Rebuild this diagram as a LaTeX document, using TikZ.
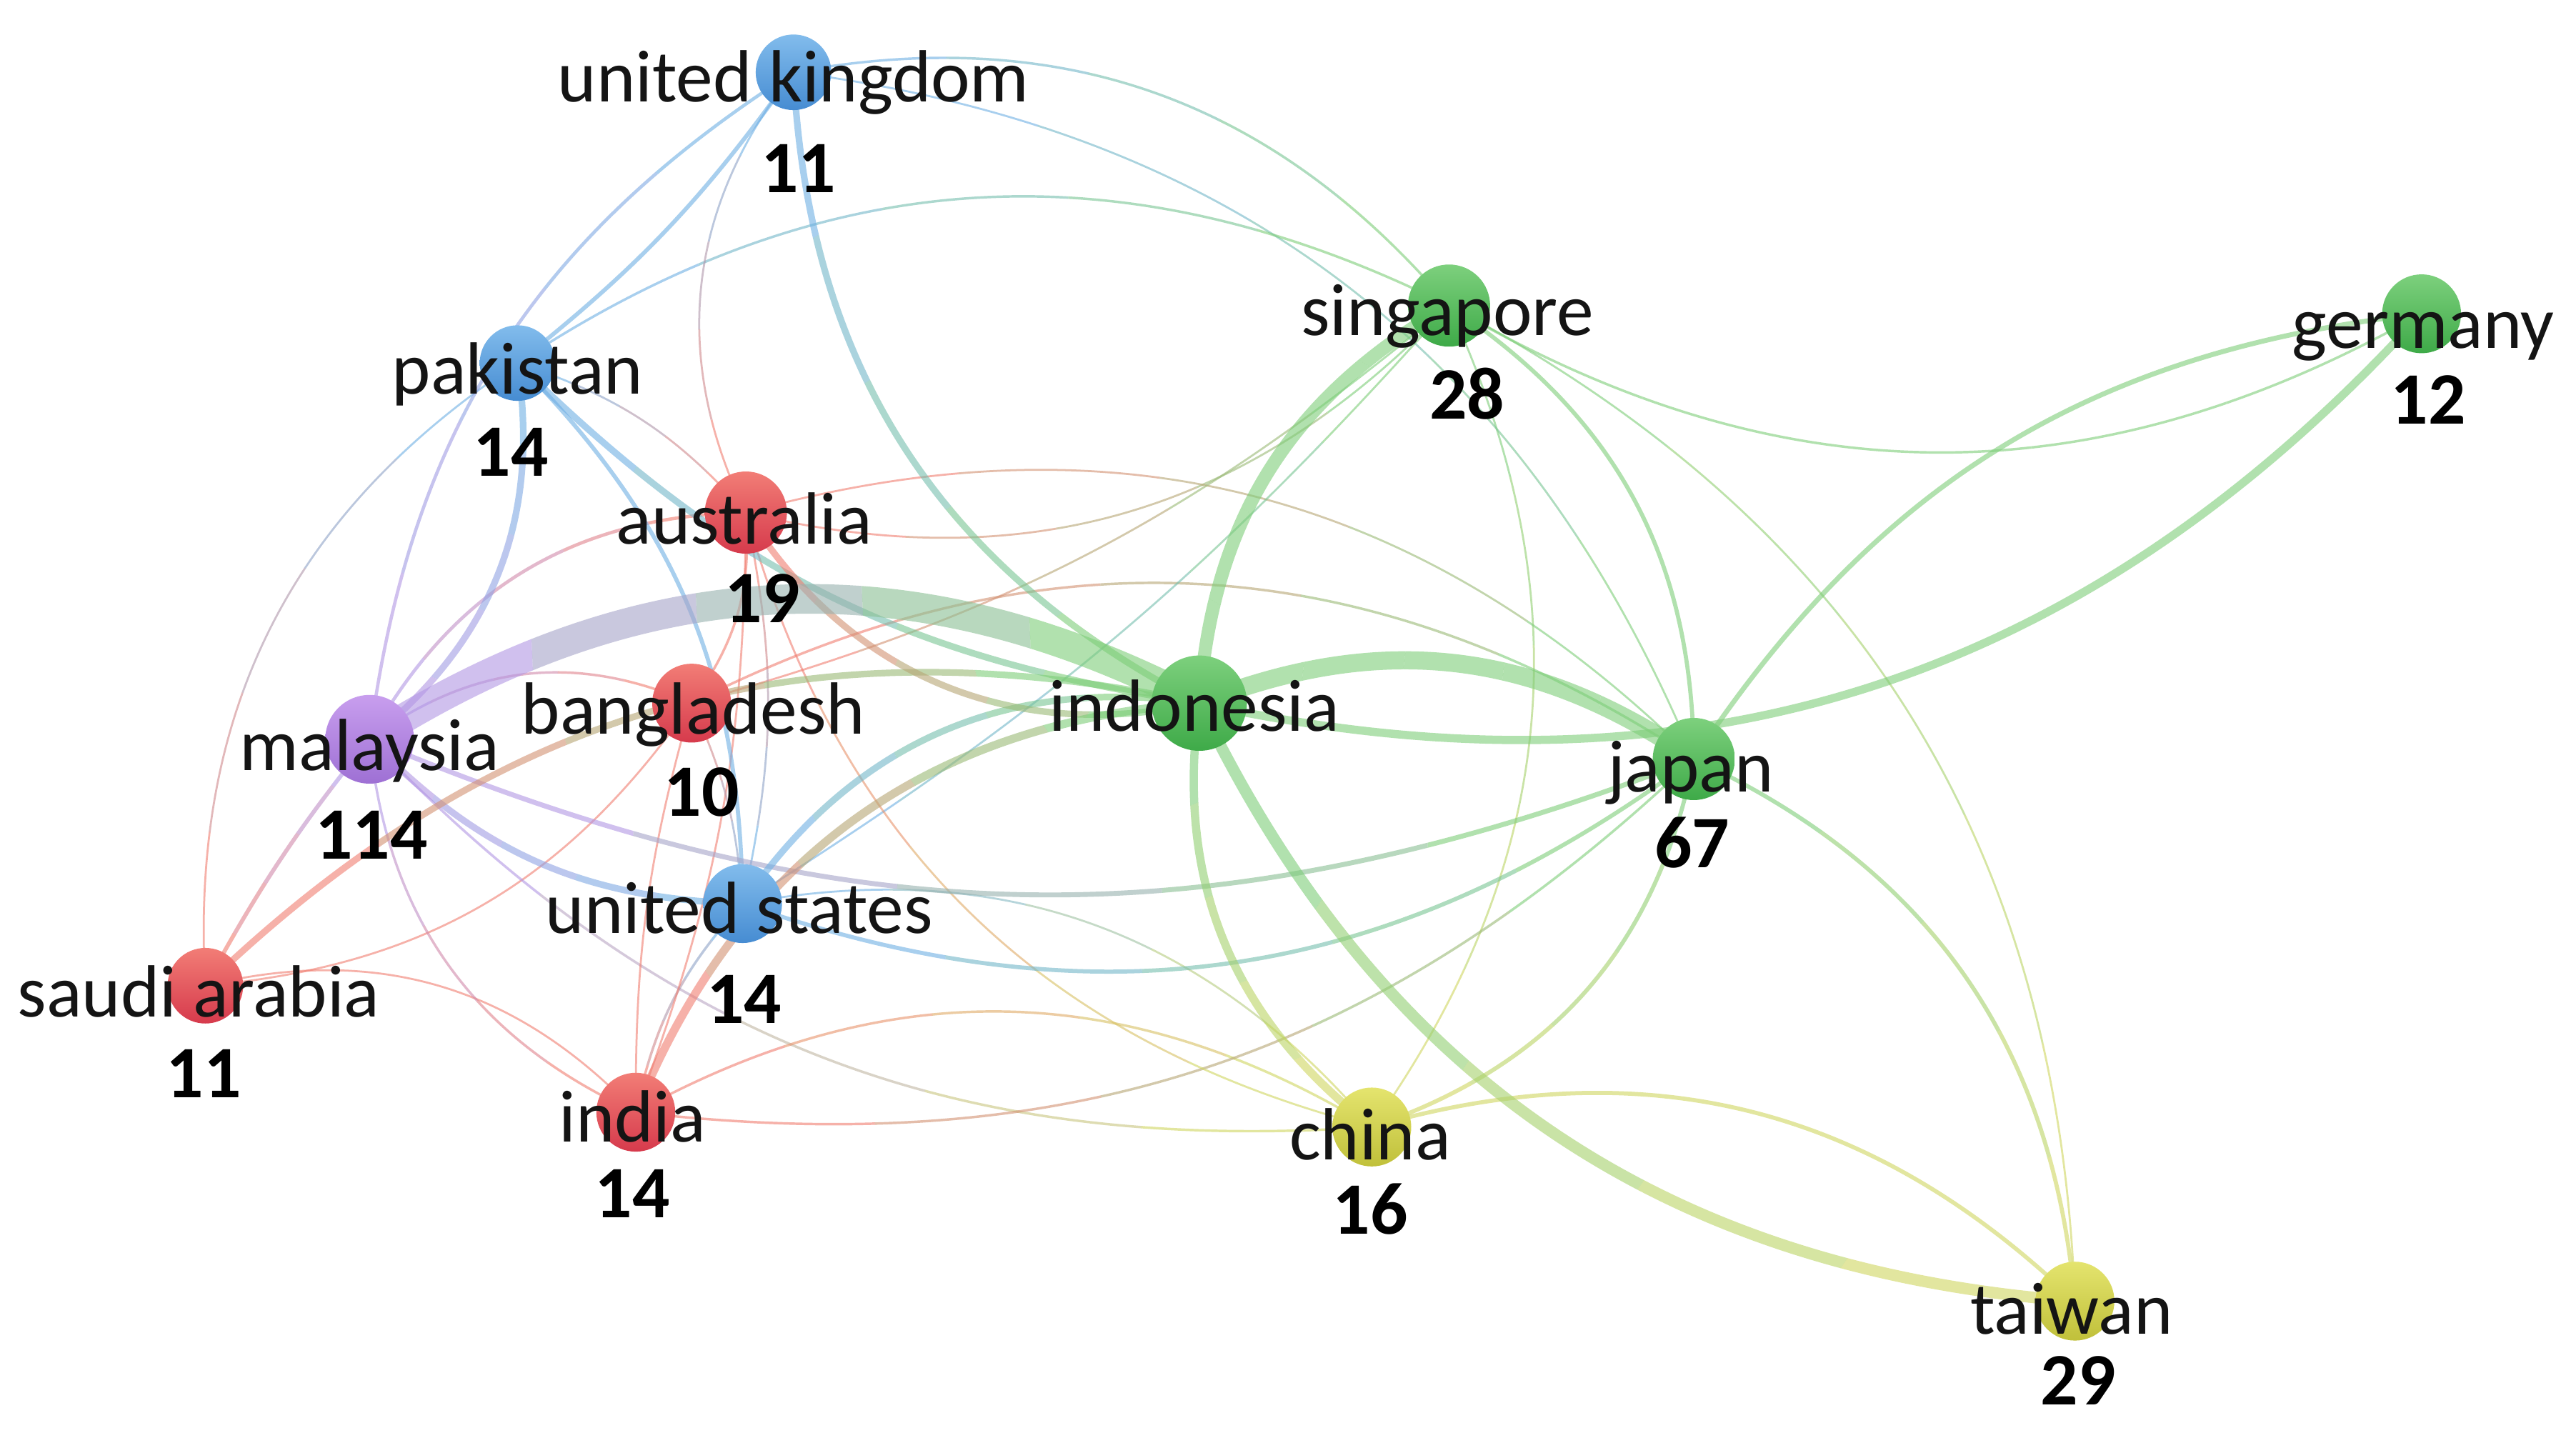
\documentclass[tikz,border=0pt]{standalone}
\usepackage{fontspec}
\setmainfont{Carlito}
\usetikzlibrary{calc}
\definecolor{eB}{RGB}{110,175,228}
\definecolor{eR}{RGB}{240,125,112}
\definecolor{eG}{RGB}{125,205,120}
\definecolor{eY}{RGB}{208,214,95}
\definecolor{eP}{RGB}{178,150,228}
\definecolor{bT}{RGB}{130,188,236}\definecolor{bB}{RGB}{70,140,210}
\definecolor{rT}{RGB}{242,125,118}\definecolor{rB}{RGB}{214,58,76}
\definecolor{gT}{RGB}{125,208,125}\definecolor{gB}{RGB}{62,170,72}
\definecolor{yT}{RGB}{228,228,110}\definecolor{yB}{RGB}{192,192,58}
\definecolor{pT}{RGB}{200,158,238}\definecolor{pB}{RGB}{158,112,212}
\tikzset{
  edge/.style={draw opacity=0.6},
  dot/.style={circle, inner sep=0pt, draw=none},
  lbl/.style={font=\fontsize{45}{50}\selectfont, text=black!92, inner sep=0pt, anchor=base},
  num/.style={font=\fontsize{45}{50}\selectfont\bfseries, text=black, inner sep=0pt, anchor=base}
}
% #1 from, #2 to, #3 colour at from, #4 colour at to, #5 width (pt), #6 bend left angle
\newcommand\lnk[6]{%
  \coordinate (pa) at ($(#1)!0.2!(#2)!2500pt!90:(#2)$);
  \coordinate (qa) at ($(#1)!0.2!(#2)!2500pt!-90:(#2)$);
  \coordinate (pb) at ($(#1)!0.4!(#2)!2500pt!90:(#2)$);
  \coordinate (qb) at ($(#1)!0.4!(#2)!2500pt!-90:(#2)$);
  \coordinate (pc) at ($(#1)!0.6!(#2)!2500pt!90:(#2)$);
  \coordinate (qc) at ($(#1)!0.6!(#2)!2500pt!-90:(#2)$);
  \coordinate (pd) at ($(#1)!0.8!(#2)!2500pt!90:(#2)$);
  \coordinate (qd) at ($(#1)!0.8!(#2)!2500pt!-90:(#2)$);
  \begin{scope}
    \clip (pa) -- (qa) -- ($(qa)!2500pt!90:(pa)$) -- ($(pa)!2500pt!-90:(qa)$) -- cycle;
    \draw[edge, line width=#5pt, draw=#3] (#1) to[bend left=#6] (#2);
  \end{scope}
  \begin{scope}
    \clip (pa) -- (qa) -- (qb) -- (pb) -- cycle;
    \draw[edge, line width=#5pt, draw=#3!75!#4] (#1) to[bend left=#6] (#2);
  \end{scope}
  \begin{scope}
    \clip (pb) -- (qb) -- (qc) -- (pc) -- cycle;
    \draw[edge, line width=#5pt, draw=#3!50!#4] (#1) to[bend left=#6] (#2);
  \end{scope}
  \begin{scope}
    \clip (pc) -- (qc) -- (qd) -- (pd) -- cycle;
    \draw[edge, line width=#5pt, draw=#3!25!#4] (#1) to[bend left=#6] (#2);
  \end{scope}
  \begin{scope}
    \clip (pd) -- (qd) -- ($(qd)!2500pt!-90:(pd)$) -- ($(pd)!2500pt!90:(qd)$) -- cycle;
    \draw[edge, line width=#5pt, draw=#4] (#1) to[bend left=#6] (#2);
  \end{scope}}
\begin{document}
\begin{tikzpicture}[x=1pt,y=1pt]
\fill[white] (0,0) rectangle (1568,-875);
\useasboundingbox (0,0) rectangle (1568,-875);
% centres
\coordinate (uk)  at (483,-44);
\coordinate (pak) at (315,-221);
\coordinate (aus) at (454,-312);
\coordinate (bgd) at (421,-428);
\coordinate (mys) at (225,-450);
\coordinate (sau) at (125,-600);
\coordinate (usa) at (452,-550);
\coordinate (ind) at (387,-677);
\coordinate (idn) at (730,-428);
\coordinate (sgp) at (882,-186);
\coordinate (deu) at (1474,-191);
\coordinate (jpn) at (1031,-462);
\coordinate (chn) at (835,-686);
\coordinate (twn) at (1263,-792);
% thin links
\lnk{deu}{sgp}{eG}{eG}{1.5}{30}
\lnk{sgp}{twn}{eG}{eY}{1.2}{30}
\lnk{sgp}{chn}{eG}{eY}{1.2}{30}
\lnk{uk}{sgp}{eB}{eG}{1.5}{30}
\lnk{uk}{jpn}{eB}{eG}{1.2}{30}
\lnk{pak}{sgp}{eB}{eG}{1.5}{30}
\lnk{pak}{aus}{eB}{eR}{1.2}{15}
\lnk{aus}{uk}{eR}{eB}{1.2}{32}
\lnk{sau}{pak}{eR}{eB}{1.2}{30}
\lnk{mys}{uk}{eP}{eB}{2}{25}
\lnk{mys}{aus}{eP}{eR}{2}{30}
\lnk{mys}{bgd}{eP}{eR}{1.5}{30}
\lnk{bgd}{sau}{eR}{eR}{1.2}{25}
\lnk{sau}{ind}{eR}{eR}{1.2}{30}
\lnk{ind}{mys}{eR}{eP}{1.5}{30}
\lnk{chn}{mys}{eY}{eP}{1.5}{25}
\lnk{ind}{chn}{eR}{eY}{1.5}{30}
\lnk{jpn}{ind}{eG}{eR}{1.5}{25}
\lnk{ind}{usa}{eR}{eB}{1.5}{15}
\lnk{ind}{bgd}{eR}{eR}{1.2}{8}
\lnk{aus}{ind}{eR}{eR}{1.2}{10}
\lnk{sgp}{aus}{eG}{eR}{1.2}{30}
\lnk{aus}{jpn}{eR}{eG}{1.2}{30}
\lnk{bgd}{jpn}{eR}{eG}{1.5}{30}
\lnk{sgp}{usa}{eG}{eB}{1.2}{8}
\lnk{sgp}{bgd}{eG}{eR}{1.2}{12}
\lnk{aus}{bgd}{eR}{eR}{1.5}{20}
\lnk{aus}{usa}{eR}{eB}{1.2}{12}
\lnk{bgd}{usa}{eR}{eB}{1.2}{10}
\lnk{chn}{aus}{eY}{eR}{1.2}{30}
\lnk{usa}{chn}{eB}{eY}{1.2}{30}
% medium links
\lnk{jpn}{deu}{eG}{eG}{3}{25}
\lnk{sgp}{jpn}{eG}{eG}{2.5}{28}
\lnk{jpn}{twn}{eG}{eY}{2.5}{30}
\lnk{jpn}{chn}{eG}{eY}{2.5}{30}
\lnk{chn}{twn}{eY}{eY}{2.5}{30}
\lnk{uk}{pak}{eB}{eB}{2.5}{8}
\lnk{pak}{usa}{eB}{eB}{2.5}{22}
\lnk{sau}{mys}{eR}{eP}{2.5}{5}
\lnk{jpn}{mys}{eG}{eP}{3}{22}
\lnk{jpn}{usa}{eG}{eB}{2.5}{28}
% thick links
\lnk{idn}{uk}{eG}{eB}{4}{30}
\lnk{idn}{pak}{eG}{eB}{4}{18}
\lnk{pak}{mys}{eB}{eP}{4}{30}
\lnk{usa}{mys}{eB}{eP}{4}{22}
\lnk{usa}{idn}{eB}{eG}{4}{32}
\lnk{sau}{idn}{eR}{eG}{4}{28}
\lnk{idn}{aus}{eG}{eR}{4}{35}
\lnk{ind}{idn}{eR}{eG}{5}{32}
\lnk{deu}{idn}{eG}{eG}{5}{30}
\lnk{chn}{idn}{eY}{eG}{5}{30}
\lnk{twn}{idn}{eY}{eG}{7}{30}
\lnk{idn}{sgp}{eG}{eG}{8}{28}
\lnk{idn}{jpn}{eG}{eG}{11}{28}
\lnk{mys}{idn}{eP}{eG}{18}{30}
% circles
\node[dot, minimum size=46pt, top color=bT, bottom color=bB] (cuk) at (uk) {};
\node[dot, minimum size=46pt, top color=bT, bottom color=bB] (cpak) at (pak) {};
\node[dot, minimum size=50pt, top color=rT, bottom color=rB] (caus) at (aus) {};
\node[dot, minimum size=48pt, top color=rT, bottom color=rB] (cbgd) at (bgd) {};
\node[dot, minimum size=54pt, top color=pT, bottom color=pB] (cmys) at (mys) {};
\node[dot, minimum size=46pt, top color=rT, bottom color=rB] (csau) at (sau) {};
\node[dot, minimum size=48pt, top color=bT, bottom color=bB] (cusa) at (usa) {};
\node[dot, minimum size=48pt, top color=rT, bottom color=rB] (cind) at (ind) {};
\node[dot, minimum size=58pt, top color=gT, bottom color=gB] (cidn) at (idn) {};
\node[dot, minimum size=50pt, top color=gT, bottom color=gB] (csgp) at (sgp) {};
\node[dot, minimum size=48pt, top color=gT, bottom color=gB] (cdeu) at (deu) {};
\node[dot, minimum size=50pt, top color=gT, bottom color=gB] (cjpn) at (jpn) {};
\node[dot, minimum size=48pt, top color=yT, bottom color=yB] (cchn) at (chn) {};
\node[dot, minimum size=48pt, top color=yT, bottom color=yB] (ctwn) at (twn) {};
% labels
\node[lbl] (tuk)  at (483,-62)  {united kingdom};
\node[num] (vuk)  at (486,-117) {11};
\node[lbl] (tpak) at (315,-240) {pakistan};
\node[num] (vpak) at (311,-290) {14};
\node[lbl] (taus) at (453,-331) {australia};
\node[num] (vaus) at (464,-379) {19};
\node[lbl] (tmys) at (225,-469) {malaysia};
\node[num] (vmys) at (226,-523) {114};
\node[lbl] (tbgd) at (422,-447) {bangladesh};
\node[num] (vbgd) at (427,-497) {10};
\node[lbl] (tusa) at (450,-568) {united states};
\node[num] (vusa) at (453,-623) {14};
\node[lbl] (tsau) at (121,-619) {saudi arabia};
\node[num] (vsau) at (124,-668) {11};
\node[lbl] (tind) at (385,-695) {india};
\node[num] (vind) at (385,-741) {14};
\node[lbl] (tidn) at (727,-445) {indonesia};
\node[lbl] (tsgp) at (881,-204) {singapore};
\node[num] (vsgp) at (893,-255) {28};
\node[lbl] (tdeu) at (1475,-212) {germany};
\node[num] (vdeu) at (1478,-258) {12};
\node[lbl] (tjpn) at (1029,-482) {japan};
\node[num] (vjpn) at (1030,-528) {67};
\node[lbl] (tchn) at (834,-706) {china};
\node[num] (vchn) at (834,-751) {16};
\node[lbl] (ttwn) at (1261,-812) {taiwan};
\node[num] (vtwn) at (1265,-855) {29};
\end{tikzpicture}
\end{document}
